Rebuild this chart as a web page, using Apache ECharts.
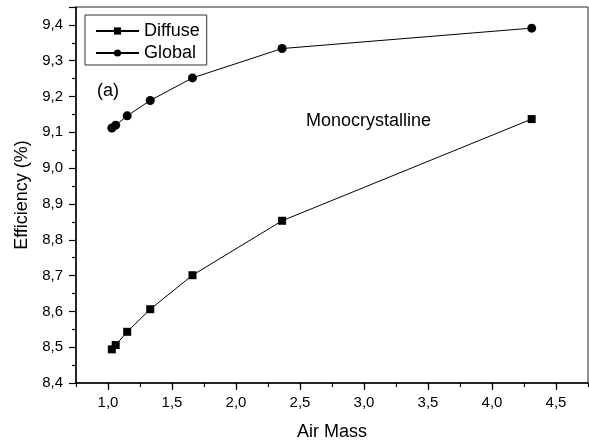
<!DOCTYPE html>
<html>
<head>
<meta charset="utf-8">
<script src="https://cdn.jsdelivr.net/npm/echarts@6/dist/echarts.min.js"></script>
<style>html,body{margin:0;padding:0;background:#fff}#c{width:589px;height:446px}</style>
</head>
<body>
<div id="c"></div>
<script>
var airMass = [1.03, 1.06, 1.15, 1.33, 1.66, 2.36, 4.31];
var diffuse = [8.494, 8.506, 8.543, 8.606, 8.701, 8.853, 9.137];
var globalEff = [9.112, 9.120, 9.146, 9.189, 9.252, 9.334, 9.391];
var xMajorTicks = [1.0, 1.5, 2.0, 2.5, 3.0, 3.5, 4.0, 4.5];
var seriesNames = ['Diffuse', 'Global'];

function pairs(xs, ys){ return xs.map(function(x,i){ return [x, ys[i]]; }); }
function comma(v, d){ return v.toFixed(d).replace('.', ','); }

var FONT = 'Liberation Sans, Arial, sans-serif';
var chart = echarts.init(document.getElementById('c'));
chart.setOption({
  animation: false,
  backgroundColor: '#fff',
  grid: { left: 76, right: 1, top: 7, bottom: 59, show: true, borderColor: '#222', borderWidth: 1, backgroundColor: 'transparent' },
  xAxis: [{
    type: 'value', min: 0.75, max: 4.75, interval: 0.25,
    axisLine: { show: true, onZero: false, lineStyle: { color: '#000', width: 1.5 } },
    axisTick: { show: true, length: 4, lineStyle: { color: '#000', width: 1.2 } },
    axisLabel: { show: false },
    splitLine: { show: false },
    name: 'Air Mass', nameLocation: 'middle', nameGap: 40,
    nameTextStyle: { fontFamily: FONT, fontSize: 18, color: '#000' }
  }, {
    type: 'value', min: 0.75, max: 4.75, position: 'bottom', offset: 0,
    axisLine: { show: false },
    axisTick: { show: true, length: 7, customValues: xMajorTicks, lineStyle: { color: '#000', width: 1.2 } },
    axisLabel: { show: true, customValues: xMajorTicks, margin: 12, fontFamily: FONT, fontSize: 15, color: '#000',
      formatter: function(v){ return comma(v, 1); } },
    splitLine: { show: false }
  }],
  yAxis: {
    type: 'value', min: 8.4, max: 9.45, interval: 0.1,
    axisLine: { show: true, onZero: false, lineStyle: { color: '#000', width: 1.5 } },
    axisTick: { show: true, length: 7, lineStyle: { color: '#000', width: 1.2 } },
    minorTick: { show: true, splitNumber: 2, length: 4, lineStyle: { color: '#000', width: 1.2 } },
    axisLabel: { margin: 13, fontFamily: FONT, fontSize: 15, color: '#000',
      formatter: function(v){ var r = Math.round(v*10)/10; return Math.abs(r - v) < 1e-6 && v < 9.44 ? comma(v, 1) : ''; } },
    splitLine: { show: false },
    name: 'Efficiency (%)', nameLocation: 'middle', nameGap: 43,
    nameTextStyle: { fontFamily: FONT, fontSize: 18, color: '#000' }
  },
  legend: {
    left: 85, top: 15, orient: 'vertical',
    data: seriesNames,
    borderColor: '#333', borderWidth: 1, padding: [7, 7, 3, 10],
    itemWidth: 43, itemHeight: 9, itemGap: 4,
    textStyle: { fontFamily: FONT, fontSize: 18, color: '#000' }
  },
  graphic: [
    { type: 'text', left: 97, top: 82, style: { text: '(a)', fontFamily: FONT, fontSize: 18, fill: '#000' } },
    { type: 'text', left: 306, top: 112, style: { text: 'Monocrystalline', fontFamily: FONT, fontSize: 18, fill: '#000' } }
  ],
  series: [{
    name: seriesNames[0], type: 'line', data: pairs(airMass, diffuse),
    symbol: 'rect', symbolSize: 8, color: '#000',
    lineStyle: { color: '#000', width: 1 }, itemStyle: { color: '#000' }
  }, {
    name: seriesNames[1], type: 'line', data: pairs(airMass, globalEff),
    symbol: 'circle', symbolSize: 9, color: '#000',
    lineStyle: { color: '#000', width: 1 }, itemStyle: { color: '#000' }
  }]
});
</script>
</body>
</html>
